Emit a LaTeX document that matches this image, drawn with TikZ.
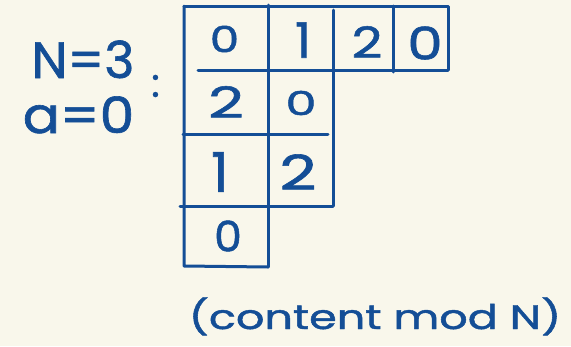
\documentclass[tikz,border=0pt]{standalone}
\usepackage{fontspec}
\setmainfont{Poppins}[FakeBold=1.2]
\definecolor{paper}{RGB}{249,247,235}
\definecolor{ink}{RGB}{20,78,150}
% widen a glyph horizontally, keeping its height
\newcommand\stretchx[2]{\scalebox{#1}[1]{#2}}
\begin{document}
\begin{tikzpicture}[x=1pt,y=-1pt,
  pen/.style={draw=ink,line width=3pt,line cap=round,line join=round},
  inktext/.style={text=ink,inner sep=0pt},
  fs/.style={font=\fontsize{#1}{#1}\selectfont}]
\fill[paper] (0,0) rectangle (571,346);
\useasboundingbox (0,0) rectangle (571,346);

% tableau: outer edges and column rules
\draw[pen] (184,6) -- (448,6) -- (448,70);
\draw[pen] (184,6) -- (184,266) -- (268,267);
\draw[pen] (268,5) -- (268,267);
\draw[pen] (333,10) -- (333,206);
\draw[pen] (393,6) -- (393,72);
% row rules
\draw[pen] (198,70) -- (448,70);
\draw[pen] (183,134) -- (328,134);
\draw[pen] (180,206) -- (333,206);

% cell entries (content mod N)
\node[inktext,fs=36] (c11) at (224.5,39) {\stretchx{1.3}{0}};
\node[inktext,fs=49] (c12) at (303,40) {1};
\node[inktext,fs=43] (c13) at (367,42) {\stretchx{1.25}{2}};
\node[inktext,fs=45] (c14) at (425,43) {\stretchx{1.25}{0}};
\node[inktext,fs=43] (c21) at (226,102) {\stretchx{1.45}{2}};
\node[inktext,fs=33] (c22) at (301,103) {\stretchx{1.5}{0}};
\node[inktext,fs=55] (c31) at (220,172) {1};
\node[inktext,fs=48] (c32) at (298,172) {\stretchx{1.35}{2}};
\node[inktext,fs=42] (c41) at (228,236) {\stretchx{1.05}{0}};

% parameters
\node[inktext,fs=51,anchor=base] (nval) at (83,78) {N=3};
\node[inktext,fs=50,anchor=base] (aval) at (78.5,133) {\stretchx{1.1}{a=0}};
\node[inktext,fs=40] (colon) at (155.5,86) {:};

% caption
\node[inktext,fs=34,anchor=base] (caption) at (375,329) {\stretchx{1.31}{(content mod N)}};
\end{tikzpicture}
\end{document}
